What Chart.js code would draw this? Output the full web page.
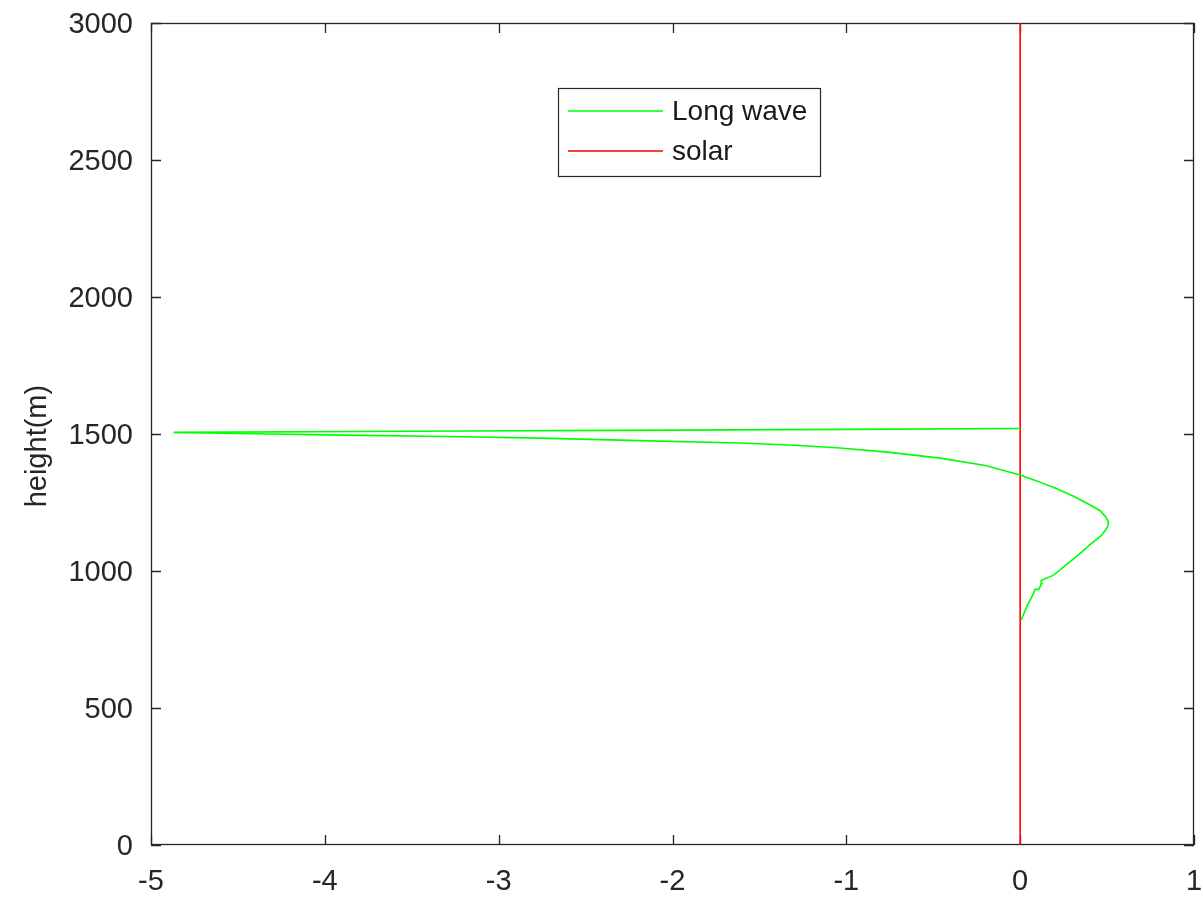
<!DOCTYPE html>
<html>
<head>
<meta charset="utf-8">
<script src="https://cdn.jsdelivr.net/npm/chart.js@4"></script>
<style>
  html, body { margin: 0; padding: 0; background: #fff; }
  #wrap { width: 1203px; height: 898px; }
</style>
</head>
<body>
<div id="wrap"><canvas id="myChart" width="1203" height="898"></canvas></div>
<script>
// long wave heating profile (x value, height in m)
const longWaveX = [0.006, 0.038, 0.077, 0.086, 0.106, 0.125, 0.121, 0.134, 0.192, 0.23, 0.298, 0.345, 0.40, 0.46, 0.49, 0.505, 0.508, 0.495, 0.46, 0.403, 0.31, 0.211, 0.10, 0, -0.2, -0.46, -0.75, -1.036, -1.3, -1.61, -2.19, -2.76, -3.3, -3.91, -4.4, -4.87, -3.5, -2.0, -1.0, 0];
const longWaveH = [821, 870, 918, 933, 933, 955, 965, 969, 985, 1004, 1040, 1064, 1095, 1125, 1148, 1165, 1178, 1195, 1220, 1241, 1272, 1300, 1328, 1350, 1385, 1412, 1433, 1449, 1459, 1467, 1476, 1485, 1491, 1496, 1501, 1506, 1510, 1514, 1517, 1520];
const solarX = [0, 0];
const solarH = [0, 3000];

const xTicks = [-5, -4, -3, -2, -1, 0, 1];
const yTicks = [0, 500, 1000, 1500, 2000, 2500, 3000];
const labels = ["Long wave", "solar"];

const axisColor = '#262626';
const fontFamily = "'Liberation Sans', Arial, sans-serif";

function toPoints(xs, ys) {
    return xs.map((x, i) => ({x: x, y: ys[i]}));
}

// box around the plot with ticks pointing inwards on all four sides,
// legend box drawn on top of the lines
const boxAxes = {
    id: 'boxAxes',
    beforeDatasetsDraw(chart) {
        const {ctx, chartArea: a, scales} = chart;
        const len = 10;
        ctx.save();
        ctx.strokeStyle = axisColor;
        ctx.lineWidth = 1.3;
        ctx.beginPath();
        for (const v of xTicks) {
            const px = Math.round(scales.x.getPixelForValue(v)) + 0.5;
            ctx.moveTo(px, a.bottom); ctx.lineTo(px, a.bottom - len);
            ctx.moveTo(px, a.top); ctx.lineTo(px, a.top + len);
        }
        for (const v of yTicks) {
            const py = Math.round(scales.y.getPixelForValue(v)) + 0.5;
            ctx.moveTo(a.left, py); ctx.lineTo(a.left + len, py);
            ctx.moveTo(a.right, py); ctx.lineTo(a.right - len, py);
        }
        ctx.stroke();
        ctx.strokeRect(a.left + 0.5, a.top + 0.5, a.right - a.left - 1, a.bottom - a.top - 1);
        ctx.restore();
    },
    afterDatasetsDraw(chart) {
        const {ctx} = chart;
        const lx = 558, ly = 88, lw = 262, lh = 88;
        ctx.save();
        ctx.fillStyle = '#fff';
        ctx.fillRect(lx, ly, lw, lh);
        ctx.strokeStyle = axisColor;
        ctx.lineWidth = 1.2;
        ctx.strokeRect(lx + 0.5, ly + 0.5, lw, lh);
        ctx.font = '28px ' + fontFamily;
        ctx.textBaseline = 'middle';
        chart.data.datasets.forEach((ds, i) => {
            const y = ly + 23 + i * 40;
            ctx.strokeStyle = ds.borderColor;
            ctx.lineWidth = 1.5;
            ctx.beginPath();
            ctx.moveTo(lx + 10, y);
            ctx.lineTo(lx + 105, y);
            ctx.stroke();
            ctx.fillStyle = '#1a1a1a';
            ctx.fillText(ds.label, lx + 114, y + 1);
        });
        ctx.restore();
    }
};

new Chart(document.getElementById('myChart'), {
    type: 'scatter',
    data: {
        datasets: [
            {
                label: labels[0],
                data: toPoints(longWaveX, longWaveH),
                showLine: true,
                borderColor: '#00ff00',
                borderWidth: 1.6,
                pointRadius: 0,
                tension: 0
            },
            {
                label: labels[1],
                data: toPoints(solarX, solarH),
                showLine: true,
                borderColor: '#ff0000',
                borderWidth: 1.6,
                pointRadius: 0
            }
        ]
    },
    options: {
        responsive: false,
        animation: false,
        layout: { padding: { top: 23, right: 9, left: 0, bottom: 0 } },
        plugins: {
            legend: { display: false },
            tooltip: { enabled: false }
        },
        scales: {
            x: {
                type: 'linear',
                min: -5, max: 1,
                border: { display: false },
                grid: { display: false, drawTicks: false },
                afterBuildTicks: s => { s.ticks = xTicks.map(v => ({value: v})); },
                afterFit: s => {
                    s.height = 53;
                    s.paddingLeft = 0; s.paddingRight = 0;
                    s.paddingTop = 0; s.paddingBottom = 0;
                },
                ticks: {
                    color: axisColor,
                    padding: 20,
                    maxRotation: 0,
                    autoSkip: false,
                    callback: v => String(v),
                    font: { family: fontFamily, size: 29 }
                }
            },
            y: {
                type: 'linear',
                min: 0, max: 3000,
                border: { display: false },
                grid: { display: false, drawTicks: false },
                afterBuildTicks: s => { s.ticks = yTicks.map(v => ({value: v})); },
                afterFit: s => {
                    s.width = 151;
                    s.paddingLeft = 0; s.paddingRight = 0;
                    s.paddingTop = 0; s.paddingBottom = 0;
                },
                ticks: {
                    color: axisColor,
                    padding: 18,
                    labelOffset: 2,
                    autoSkip: false,
                    callback: v => String(v),
                    font: { family: fontFamily, size: 29 }
                },
                title: {
                    display: true,
                    // trailing spaces push the rotated label a little lower
                    text: 'height(m)   ',
                    color: axisColor,
                    padding: { top: 21, bottom: 0 },
                    font: { family: fontFamily, size: 29 }
                }
            }
        }
    },
    plugins: [boxAxes]
});
</script>
</body>
</html>
